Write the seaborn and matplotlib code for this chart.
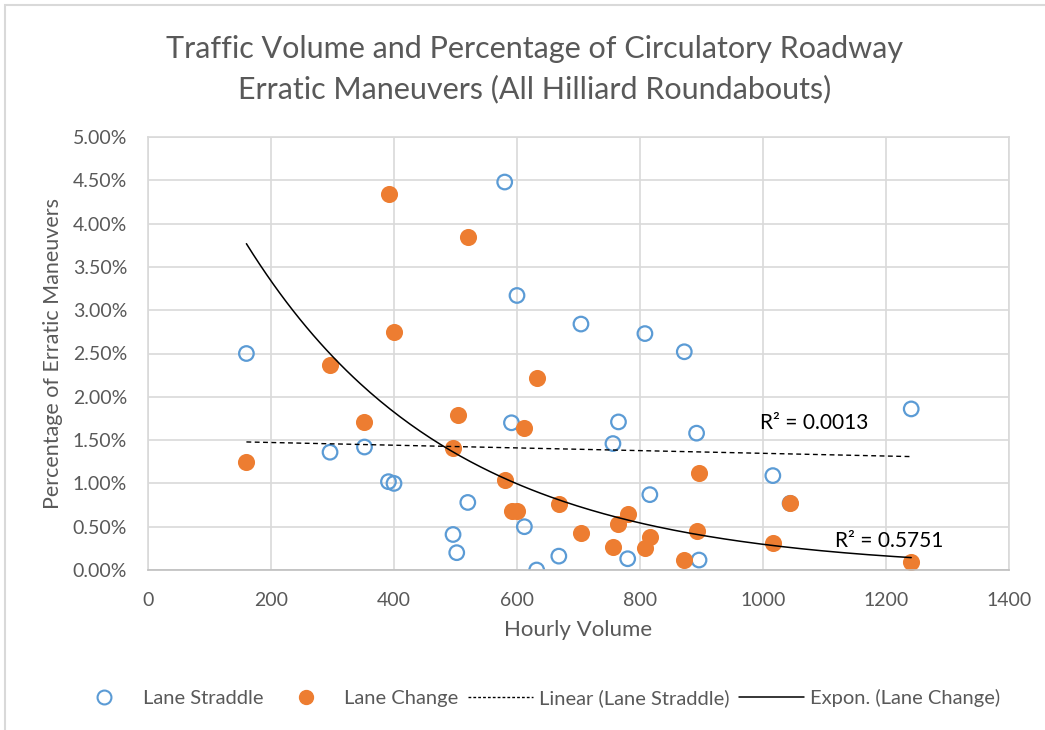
import numpy as np
import matplotlib
matplotlib.use('Agg')
import matplotlib.pyplot as plt
import seaborn as sns
from matplotlib.lines import Line2D
from matplotlib.patches import Rectangle
from matplotlib.ticker import FuncFormatter

sns.set_theme(style='white')
plt.rcParams['font.family'] = ['Lato', 'DejaVu Sans']

# values (percent); one straddle point at 1044 sits under the orange dot
straddle_vol = [160, 296, 352, 391, 400, 496, 502, 520, 580, 591, 600, 612, 632,
                668, 704, 756, 765, 780, 808, 816, 872, 892, 896, 1016, 1044, 1241]
straddle_pct = [2.50, 1.36, 1.42, 1.02, 1.00, 0.41, 0.20, 0.78, 4.48, 1.70, 3.17, 0.50, 0.00,
                0.16, 2.84, 1.46, 1.71, 0.13, 2.73, 0.87, 2.52, 1.58, 0.115, 1.09, 0.77, 1.86]
change_vol = [160, 296, 352, 392, 400, 496, 504, 520, 580, 592, 600, 612, 632,
              668, 704, 756, 765, 780, 808, 816, 872, 892, 896, 1016, 1044, 1241]
change_pct = [1.25, 2.37, 1.71, 4.34, 2.75, 1.41, 1.79, 3.85, 1.04, 0.685, 0.677, 1.64, 2.22,
              0.76, 0.43, 0.27, 0.53, 0.65, 0.25, 0.38, 0.12, 0.45, 1.12, 0.31, 0.77, 0.09]
r2_linear = 'R² = 0.0013'
r2_expon = 'R² = 0.5751'

blue = '#5B9BD5'
orange = '#ED7D31'
grey = '#595959'

fig = plt.figure(figsize=(10.45, 7.3), dpi=100)
ax = fig.add_axes([148/1045, 1-570/730, (1009-148)/1045, (570-137)/730])

sns.scatterplot(x=straddle_vol, y=straddle_pct, ax=ax, s=110, facecolors='none',
                edgecolors=blue, linewidths=1.6, zorder=2)
sns.scatterplot(x=change_vol, y=change_pct, ax=ax, s=110, color=orange,
                edgecolor=orange, linewidth=1.8, zorder=2)

# trendlines like excel: linear on straddle, exponential on lane change
lin = np.polyfit(straddle_vol, straddle_pct, 1)
xs = np.linspace(min(straddle_vol), max(straddle_vol), 200)
ax.plot(xs, np.polyval(lin, xs), color='black', lw=1, ls=(0, (3.5, 2.5)), zorder=3)
ex = np.polyfit(change_vol, np.log(change_pct), 1)
xe = np.linspace(min(change_vol), max(change_vol), 200)
ax.plot(xe, np.exp(np.polyval(ex, xe)), color='black', lw=1.1, zorder=3)

ax.text(995, 1.70, r2_linear, fontsize=15, color='black', va='center', ha='left')
ax.text(1117, 0.34, r2_expon, fontsize=15, color='black', va='center', ha='left')

ax.set_xlim(0, 1400)
ax.set_ylim(0, 5)
ax.set_xticks(np.arange(0, 1401, 200))
ax.set_yticks(np.arange(0, 5.01, 0.5))
ax.yaxis.set_major_formatter(FuncFormatter(lambda v, p: f'{v:.2f}%'))
ax.grid(True, color='#D9D9D9', lw=1.2)
ax.set_axisbelow(True)
for s in ax.spines.values():
    s.set_color('#D9D9D9')
    s.set_linewidth(1.2)
ax.spines['bottom'].set_color('#BFBFBF')
ax.tick_params(axis='both', length=0, labelsize=14, labelcolor=grey)
ax.tick_params(axis='y', pad=15)
ax.tick_params(axis='x', pad=16)
ax.set_xlabel('Hourly Volume', fontsize=16, color=grey, labelpad=8)
ax.set_ylabel('Percentage of Erratic Maneuvers', fontsize=15.5, color=grey, labelpad=7)

fig.text(535/1045, 1-69/730,
         'Traffic Volume and Percentage of Circulatory Roadway\nErratic Maneuvers (All Hilliard Roundabouts)',
         ha='center', va='center', fontsize=22, color=grey, linespacing=1.5)

handles = [
    Line2D([], [], marker='o', ls='none', mfc='none', mec=blue, mew=1.5, ms=10),
    Line2D([], [], marker='o', ls='none', mfc=orange, mec=orange, ms=10),
    Line2D([], [], color='black', lw=1, ls=(0, (2, 1.5))),
    Line2D([], [], color='black', lw=1.1),
]
labels = ['Lane Straddle', 'Lane Change', 'Linear (Lane Straddle)', 'Expon. (Lane Change)']
fig.legend(handles, labels, loc='center', bbox_to_anchor=(536/1045, 1-698/730), ncol=4,
           frameon=False, fontsize=14.5, labelcolor=grey, handlelength=3.2,
           handletextpad=0.3, columnspacing=0.5)

fig.patches.append(Rectangle((5/1045, -0.2), 1.5, 1.2-5/730, transform=fig.transFigure,
                             fill=False, ec='#D9D9D9', lw=1.5))

fig.savefig('out.png', dpi=100)
